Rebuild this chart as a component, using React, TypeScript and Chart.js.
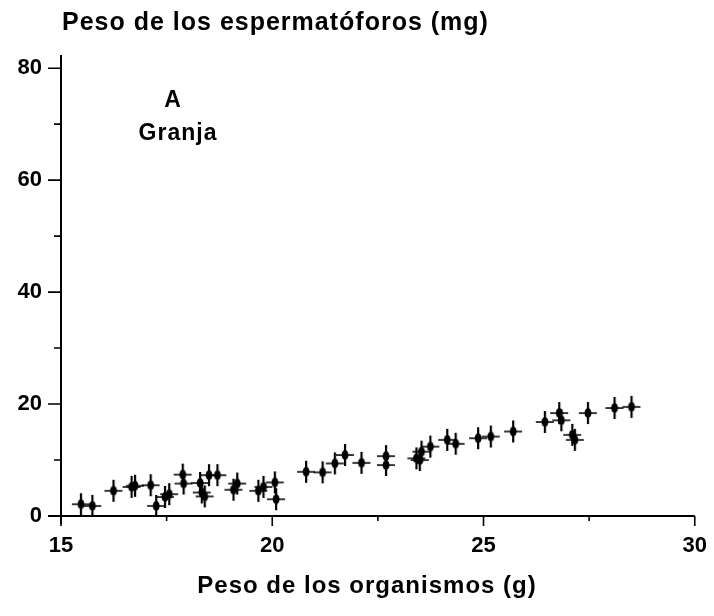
import React, { useEffect, useRef } from "react";
import { Chart, registerables } from "chart.js";
Chart.register(...registerables);

// Peso de los organismos (g)
const organismWeight = [
  15.47, 15.74, 16.24, 16.67, 16.75, 17.12, 17.25, 17.46, 17.56, 17.88,
  17.9, 18.29, 18.33, 18.4, 18.5, 18.7, 19.08, 19.17, 19.67, 19.79,
  20.06, 20.09, 20.8, 21.19, 21.48, 21.72, 22.11, 22.69, 22.69, 23.41,
  23.49, 23.53, 23.74, 24.14, 24.34, 24.87, 25.17, 25.7, 26.45, 26.79,
  26.84, 27.1, 27.16, 27.47, 28.1, 28.5,
];
// Peso de los espermatóforos (mg)
const spermatophoreWeight = [
  2.1, 1.8, 4.5, 5.2, 5.4, 5.5, 1.8, 3.4, 3.9, 7.4,
  5.8, 5.9, 4.2, 3.5, 7.3, 7.3, 4.7, 5.8, 4.5, 5.2,
  6.0, 3.0, 7.9, 7.8, 9.4, 10.9, 9.5, 10.7, 9.1, 10.3,
  10.0, 11.5, 12.4, 13.6, 12.9, 13.9, 14.2, 15.1, 16.8, 18.4,
  17.1, 14.5, 13.6, 18.4, 19.3, 19.5,
];

const xTickValues = [15, 20, 25, 30];
const xMinorTicks = [17.5, 22.5, 27.5];
const yTickValues = [0, 20, 40, 60, 80];
const yMinorTicks = [10, 30, 50, 70];

const titleText = "Peso de los espermatóforos (mg)";
const xAxisText = "Peso de los organismos (g)";
const panelLetter = "A";
const panelName = "Granja";

const FONT = "'Liberation Sans', Arial, Helvetica, sans-serif";

function makeMarker(): HTMLCanvasElement {
  const c = document.createElement("canvas");
  c.width = 22;
  c.height = 24;
  const g = c.getContext("2d")!;
  g.fillStyle = "rgba(0,0,0,0.9)";
  g.fillRect(2, 11.2, 18, 1.7);
  g.fillStyle = "#000";
  g.fillRect(10, 1, 2.2, 22);
  g.beginPath();
  g.ellipse(11.1, 12, 3.4, 5, 0, 0, Math.PI * 2);
  g.fill();
  return c;
}

const decorPlugin = {
  id: "decor",
  afterDraw(chart: any) {
    const ctx: CanvasRenderingContext2D = chart.ctx;
    const xs = chart.scales.x;
    const ys = chart.scales.y;
    const area = chart.chartArea;
    const x0 = xs.getPixelForValue(15);
    const y0 = ys.getPixelForValue(0);
    ctx.save();
    ctx.strokeStyle = "#000";
    ctx.lineWidth = 2;
    // axes
    ctx.beginPath();
    ctx.moveTo(x0, area.top - 2);
    ctx.lineTo(x0, y0 + 8);
    ctx.moveTo(x0 - 13, y0);
    ctx.lineTo(xs.getPixelForValue(30), y0);
    ctx.stroke();
    // ticks
    ctx.lineWidth = 1.6;
    ctx.beginPath();
    yTickValues.forEach((v) => {
      const p = ys.getPixelForValue(v);
      ctx.moveTo(x0 - 13, p);
      ctx.lineTo(x0, p);
    });
    yMinorTicks.forEach((v) => {
      const p = ys.getPixelForValue(v);
      ctx.moveTo(x0 - 7, p);
      ctx.lineTo(x0, p);
    });
    xTickValues.forEach((v) => {
      const p = xs.getPixelForValue(v);
      ctx.moveTo(p, y0);
      ctx.lineTo(p, y0 + 10);
    });
    xMinorTicks.forEach((v) => {
      const p = xs.getPixelForValue(v);
      ctx.moveTo(p, y0);
      ctx.lineTo(p, y0 + 5);
    });
    ctx.stroke();

    // texts
    ctx.fillStyle = "#000";
    ctx.textBaseline = "middle";
    (ctx as any).letterSpacing = "1px";
    ctx.font = `bold 25px ${FONT}`;
    ctx.textAlign = "left";
    ctx.fillText(titleText, x0 + 1, 23);

    ctx.font = `bold 24px ${FONT}`;
    ctx.textAlign = "center";
    ctx.fillText(xAxisText, 367, 586);

    ctx.font = `bold 23px ${FONT}`;
    ctx.fillText(panelLetter, x0 + 112, 101);
    ctx.fillText(panelName, x0 + 117, 134);
    (ctx as any).letterSpacing = "0px";
    ctx.restore();
  },
};

export default function App() {
  const ref = useRef<HTMLCanvasElement | null>(null);
  useEffect(() => {
    document.body.style.margin = "0";
    const canvas = ref.current!;
    const tickFont = { family: FONT, size: 22, weight: "bold" as const };
    const chart = new Chart(canvas, {
      type: "scatter",
      data: {
        datasets: [
          {
            data: organismWeight.map((x, i) => ({ x, y: spermatophoreWeight[i] })),
            pointStyle: makeMarker() as any,
            pointRadius: 11,
            pointHoverRadius: 11,
          },
        ],
      },
      options: {
        animation: false,
        responsive: false,
        devicePixelRatio: 1,
        layout: { padding: { top: 57, right: 19, bottom: 0, left: 0 } },
        plugins: {
          legend: { display: false },
          tooltip: { enabled: false },
          title: { display: false },
        },
        scales: {
          x: {
            type: "linear",
            min: 15,
            max: 30,
            afterBuildTicks: (s: any) => {
              s.ticks = xTickValues.map((value) => ({ value }));
            },
            afterFit: (s: any) => {
              s.height = 100;
            },
            grid: { display: false, drawTicks: true, tickLength: 10 },
            border: { display: false },
            ticks: { font: tickFont, color: "#000", padding: 7, maxRotation: 0, autoSkip: false },
          },
          y: {
            type: "linear",
            min: 0,
            max: 82,
            afterBuildTicks: (s: any) => {
              s.ticks = yTickValues.map((value) => ({ value }));
            },
            afterFit: (s: any) => {
              s.width = 61;
            },
            grid: { display: false, drawTicks: true, tickLength: 13 },
            border: { display: false },
            ticks: { font: tickFont, color: "#000", padding: 6, autoSkip: false },
          },
        },
      },
      plugins: [decorPlugin],
    });
    return () => chart.destroy();
  }, []);
  return (
    <div style={{ width: 714, height: 616 }}>
      <canvas ref={ref} width={714} height={616} style={{ display: "block" }} />
    </div>
  );
}
